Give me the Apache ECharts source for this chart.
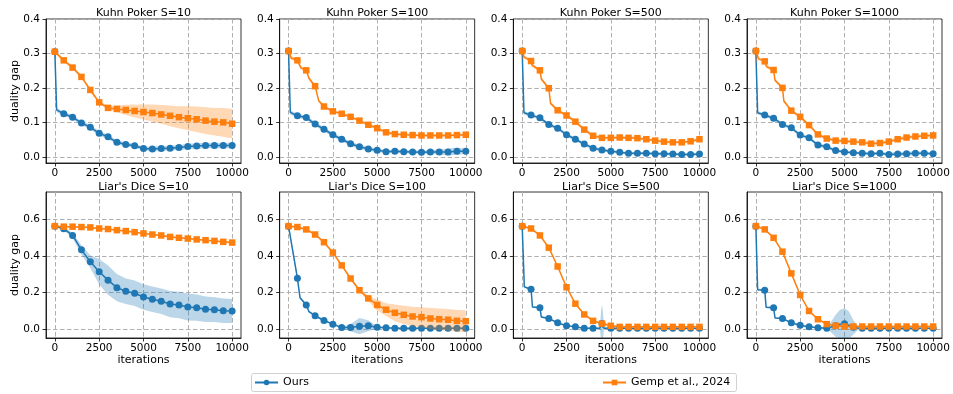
<!DOCTYPE html>
<html>
<head>
<meta charset="utf-8">
<script src="https://cdn.jsdelivr.net/npm/echarts@6/dist/echarts.min.js"></script>
<style>
  html, body { margin: 0; padding: 0; background: #fff; }
  #chart { width: 953px; height: 394px; }
</style>
</head>
<body>
<div id="chart"></div>
<script>
// Each point: [iteration, mean duality gap, standard deviation]
const kuhn10Ours = [[0,.305,.004],[100,.136,.006],[500,.125,.006],[1000,.115,.006],[1500,.098,.006],[2000,.086,.006],[2500,.068,.007],[3000,.058,.006],[3500,.042,.006],[4000,.036,.006],[4500,.032,.006],[5000,.024,.006],[5500,.023,.007],[6000,.024,.007],[6500,.025,.007],[7000,.027,.007],[7500,.030,.008],[8000,.031,.008],[8500,.033,.008],[9000,.033,.008],[9500,.033,.008],[10000,.033,.008]];
const kuhn10Gemp = [[0,.305,.005],[500,.280,.005],[1000,.259,.005],[1500,.232,.005],[2000,.194,.005],[2500,.158,.005],[3000,.142,.006],[3500,.139,.010],[4000,.136,.015],[4500,.133,.019],[5000,.130,.022],[5500,.127,.025],[6000,.123,.027],[6500,.119,.030],[7000,.115,.032],[7500,.112,.035],[8000,.109,.037],[8500,.105,.039],[9000,.102,.040],[9500,.100,.042],[10000,.096,.043]];

const kuhn100Ours = [[0,.307,.010],[100,.129,.006],[500,.119,.006],[1000,.114,.006],[1500,.095,.006],[2000,.080,.006],[2500,.064,.006],[3000,.051,.006],[3500,.038,.006],[4000,.029,.006],[4500,.023,.006],[5000,.019,.005],[5500,.015,.005],[6000,.016,.005],[6500,.015,.005],[7000,.014,.005],[7500,.013,.005],[8000,.014,.006],[8500,.014,.007],[9000,.014,.010],[9500,.016,.010],[10000,.016,.008]];
const kuhn100Gemp = [[0,.307,.020],[150,.287,.005],[500,.280,.005],[700,.258,.005],[1000,.251,.005],[1150,.228,.005],[1500,.205,.005],[1700,.163,.005],[2000,.146,.005],[2500,.132,.004],[3000,.125,.004],[3500,.116,.004],[4000,.105,.004],[4500,.093,.004],[5000,.083,.004],[5500,.071,.004],[6000,.066,.004],[6500,.064,.004],[7000,.063,.004],[7500,.062,.004],[8000,.062,.004],[8500,.062,.004],[9000,.062,.004],[9500,.063,.004],[10000,.064,.004]];

const kuhn500Ours = [[0,.307,.010],[100,.128,.005],[500,.121,.005],[1000,.113,.005],[1500,.094,.005],[2000,.083,.005],[2500,.064,.005],[3000,.051,.005],[3500,.037,.005],[4000,.025,.005],[4500,.020,.004],[5000,.016,.004],[5500,.013,.004],[6000,.010,.004],[6500,.010,.004],[7000,.010,.004],[7500,.009,.004],[8000,.009,.004],[8500,.008,.004],[9000,.007,.004],[9500,.007,.004],[10000,.008,.004]];
const kuhn500Gemp = [[0,.307,.025],[100,.290,.005],[500,.278,.005],[550,.266,.005],[1000,.251,.005],[1080,.226,.005],[1500,.199,.005],[1600,.155,.005],[2000,.135,.005],[2500,.120,.005],[3000,.102,.005],[3500,.079,.005],[4000,.061,.005],[4500,.055,.004],[5000,.055,.004],[5500,.056,.004],[6000,.055,.004],[6500,.054,.004],[7000,.051,.004],[7500,.047,.004],[8000,.044,.004],[8500,.042,.004],[9000,.042,.004],[9500,.045,.004],[10000,.051,.005]];

const kuhn1000Ours = [[0,.307,.010],[100,.128,.005],[500,.121,.005],[1000,.112,.005],[1500,.094,.005],[2000,.084,.005],[2500,.063,.005],[3000,.055,.005],[3500,.034,.005],[4000,.029,.005],[4500,.018,.005],[5000,.014,.004],[5500,.012,.004],[6000,.010,.004],[6500,.009,.004],[7000,.010,.004],[7500,.007,.005],[8000,.008,.006],[8500,.009,.006],[9000,.010,.006],[9500,.010,.005],[10000,.009,.004]];
const kuhn1000Gemp = [[0,.307,.035],[150,.285,.005],[500,.277,.005],[600,.262,.005],[1000,.252,.005],[1080,.222,.005],[1500,.200,.005],[1580,.162,.005],[2000,.134,.005],[2500,.116,.005],[3000,.092,.005],[3500,.065,.005],[4000,.053,.005],[4500,.047,.005],[5000,.046,.005],[5500,.044,.005],[6000,.042,.005],[6500,.038,.005],[7000,.040,.005],[7500,.044,.005],[8000,.051,.005],[8500,.056,.005],[9000,.059,.005],[9500,.061,.005],[10000,.062,.005]];

const dice10Ours = [[0,.563,.003],[500,.549,.008],[1000,.512,.015],[1500,.433,.025],[2000,.368,.035],[2500,.313,.070],[3000,.267,.080],[3500,.226,.075],[4000,.206,.070],[4500,.195,.070],[5000,.175,.070],[5500,.162,.070],[6000,.151,.070],[6500,.136,.072],[7000,.131,.073],[7500,.120,.074],[8000,.116,.072],[8500,.107,.070],[9000,.105,.068],[9500,.099,.067],[10000,.098,.066]];
const dice10Gemp = [[0,.563,.005],[500,.560,.005],[1000,.560,.005],[1500,.558,.005],[2000,.556,.005],[2500,.550,.005],[3000,.547,.005],[3500,.541,.005],[4000,.536,.005],[4500,.530,.005],[5000,.523,.005],[5500,.517,.005],[6000,.512,.005],[6500,.504,.005],[7000,.499,.005],[7500,.495,.005],[8000,.490,.005],[8500,.486,.005],[9000,.482,.005],[9500,.477,.005],[10000,.473,.005]];

const dice100Ours = [[0,.563,.005],[250,.420,.015],[500,.278,.010],[650,.170,.008],[1000,.131,.006],[1150,.095,.006],[1500,.072,.005],[2000,.046,.005],[2500,.026,.005],[3000,.007,.005],[3500,.007,.020],[4000,.015,.045],[4500,.017,.030],[5000,.009,.006],[5500,.006,.004],[6000,.004,.004],[6500,.004,.004],[7000,.004,.004],[7500,.004,.004],[8000,.004,.004],[8500,.004,.004],[9000,.004,.004],[9500,.004,.004],[10000,.004,.004]];
const dice100Gemp = [[0,.563,.006],[500,.558,.006],[1000,.545,.006],[1500,.517,.007],[2000,.475,.008],[2500,.418,.008],[3000,.348,.008],[3500,.276,.008],[4000,.212,.010],[4500,.167,.015],[5000,.131,.030],[5500,.105,.035],[6000,.088,.046],[6500,.077,.050],[7000,.068,.053],[7500,.064,.055],[8000,.057,.057],[8500,.053,.058],[9000,.050,.059],[9500,.044,.060],[10000,.042,.060]];

const dice500Ours = [[0,.563,.005],[120,.230,.006],[500,.217,.005],[580,.120,.005],[1000,.116,.005],[1080,.065,.005],[1500,.057,.004],[2000,.033,.004],[2500,.017,.004],[3000,.011,.004],[3500,.004,.004],[4000,.004,.004],[4380,.004,.004],[4450,.020,.080],[4500,.030,.105],[4550,.020,.080],[4620,.004,.004],[5000,.003,.004],[5500,.003,.003],[6000,.003,.003],[6500,.003,.003],[7000,.003,.003],[7500,.003,.003],[7700,.003,.003],[7750,.008,.025],[7800,.003,.003],[8000,.003,.003],[8500,.003,.003],[9000,.003,.003],[9500,.003,.003],[10000,.003,.003]];
const dice500Gemp = [[0,.563,.006],[500,.550,.006],[1000,.512,.006],[1500,.445,.006],[2000,.342,.006],[2500,.228,.006],[3000,.138,.006],[3500,.079,.006],[4000,.044,.006],[4500,.029,.006],[5000,.017,.005],[5500,.011,.004],[6000,.011,.004],[6500,.011,.004],[7000,.011,.004],[7500,.011,.004],[8000,.011,.004],[8500,.011,.004],[9000,.011,.004],[9500,.011,.004],[10000,.011,.004]];

const dice1000Ours = [[0,.563,.005],[100,.215,.006],[500,.212,.005],[580,.118,.005],[1000,.116,.005],[1080,.060,.005],[1500,.057,.004],[2000,.033,.004],[2500,.020,.004],[3000,.011,.004],[3500,.006,.004],[4000,.004,.005],[4250,.010,.030],[4500,.017,.060],[4750,.025,.080],[5000,.028,.085],[5250,.020,.075],[5500,.009,.040],[5750,.005,.012],[6000,.004,.004],[6500,.004,.004],[7000,.004,.004],[7500,.004,.004],[8000,.004,.004],[8500,.004,.004],[9000,.004,.004],[9500,.004,.004],[10000,.004,.004]];
const dice1000Gemp = [[0,.563,.006],[500,.545,.006],[1000,.499,.006],[1500,.423,.006],[2000,.304,.006],[2500,.186,.006],[3000,.098,.006],[3500,.053,.006],[4000,.026,.006],[4500,.017,.005],[5000,.013,.004],[5500,.013,.004],[6000,.013,.004],[6500,.013,.004],[7000,.013,.004],[7500,.013,.004],[8000,.013,.004],[8500,.013,.004],[9000,.013,.004],[9500,.013,.004],[10000,.013,.004]];

const panelTitles = ['Kuhn Poker S=10', 'Kuhn Poker S=100', 'Kuhn Poker S=500', 'Kuhn Poker S=1000',
                     "Liar's Dice S=10", "Liar's Dice S=100", "Liar's Dice S=500", "Liar's Dice S=1000"];
const oursRuns = [kuhn10Ours, kuhn100Ours, kuhn500Ours, kuhn1000Ours, dice10Ours, dice100Ours, dice500Ours, dice1000Ours];
const gempRuns = [kuhn10Gemp, kuhn100Gemp, kuhn500Gemp, kuhn1000Gemp, dice10Gemp, dice100Gemp, dice500Gemp, dice1000Gemp];
const seriesNames = ['Ours', 'Gemp et al., 2024'];
const xTicks = [0, 2500, 5000, 7500, 10000];
const kuhnTicks = [0, 0.1, 0.2, 0.3, 0.4];
const diceTicks = [0, 0.2, 0.4, 0.6];
const xLabel = 'iterations';
const yLabel = 'duality gap';

// ---- layout and style ----
const BLUE = '#1f77b4', ORANGE = '#ff7f0e';
const BLUE_FILL = 'rgba(31,119,180,0.3)', ORANGE_FILL = 'rgba(255,127,14,0.3)';
const FONT = 'DejaVu Sans';
const GRID_LEFTS = [46, 279.67, 513.33, 747];
const GRID_W = 195;
const ROWS = [
  { top: 19, height: 144, min: -0.018, max: 0.4, ticks: kuhnTicks, titleY: 13 },
  { top: 192, height: 146, min: -0.05, max: 0.75, ticks: diceTicks, titleY: 187 }
];
const MARK_EVERY = 500;
const GRID_LINE = { color: '#b0b0b0', width: 1, type: [4.5, 2.5] };
const SPINE = { color: '#000', width: 0.8 };

const grids = [], xAxes = [], yAxes = [], series = [], graphics = [];

function bandSeries(pts, gi, fill, z) {
  return {
    type: 'custom', xAxisIndex: gi, yAxisIndex: gi, z, silent: true, clip: true,
    data: pts.map(p => [p[0], p[1] - p[2], p[1] + p[2]]),
    encode: { x: 0, y: [1, 2] },
    renderItem: function (params, api) {
      if (params.dataIndex !== 0) return null;
      const upper = pts.map(p => api.coord([p[0], p[1] + p[2]]));
      const lower = pts.map(p => api.coord([p[0], p[1] - p[2]])).reverse();
      const cs = params.coordSys;
      return {
        type: 'polygon',
        shape: { points: upper.concat(lower) },
        style: { fill: fill, stroke: null },
        clipPath: { type: 'rect', shape: { x: cs.x, y: cs.y, width: cs.width, height: cs.height } }
      };
    }
  };
}

function lineSeries(name, pts, gi, color, symbol, size, z) {
  return {
    type: 'line', name, xAxisIndex: gi, yAxisIndex: gi, z,
    color,
    symbol, symbolSize: size, showAllSymbol: true,
    itemStyle: { color, borderWidth: 0 },
    lineStyle: { color, width: 1.5 },
    emphasis: { disabled: true },
    data: pts.map(p => ({ value: [p[0], p[1]], symbol: p[0] % MARK_EVERY === 0 ? symbol : 'none' }))
  };
}

panelTitles.forEach((title, gi) => {
  const row = ROWS[Math.floor(gi / 4)];
  const col = gi % 4;
  const left = GRID_LEFTS[col];
  grids.push({ left, top: row.top, width: GRID_W, height: row.height, show: true,
               borderColor: '#000', borderWidth: 0.8, backgroundColor: 'transparent' });
  xAxes.push({
    gridIndex: gi, type: 'value', min: -500, max: 10500,
    axisLine: { show: true, onZero: false, lineStyle: SPINE },
    axisTick: { show: true, customValues: xTicks, length: 3.5, lineStyle: SPINE },
    axisLabel: { customValues: xTicks, fontSize: 10.5, color: '#000', margin: 5, fontFamily: FONT,
                 formatter: v => String(v) },
    splitLine: { show: true, lineStyle: GRID_LINE }
  });
  yAxes.push({
    gridIndex: gi, type: 'value', min: row.min, max: row.max,
    axisLine: { show: true, onZero: false, lineStyle: SPINE },
    axisTick: { show: true, customValues: row.ticks, length: 3.5, lineStyle: SPINE },
    axisLabel: { customValues: row.ticks, fontSize: 10.5, color: '#000', margin: 6, fontFamily: FONT,
                 formatter: v => v.toFixed(1) },
    splitLine: { show: true, lineStyle: GRID_LINE }
  });

  series.push(bandSeries(oursRuns[gi], gi, BLUE_FILL, 1));
  series.push(lineSeries(seriesNames[0], oursRuns[gi], gi, BLUE, 'circle', 7, 2));
  series.push(bandSeries(gempRuns[gi], gi, ORANGE_FILL, 3));
  series.push(lineSeries(seriesNames[1], gempRuns[gi], gi, ORANGE, 'rect', 6.5, 4));

  graphics.push({
    type: 'text', x: left + GRID_W / 2, y: row.titleY,
    style: { text: title, font: '11px "DejaVu Sans"', fill: '#000', align: 'center', verticalAlign: 'middle' }
  });
  if (gi >= 4) {
    graphics.push({
      type: 'text', x: left + GRID_W / 2, y: 360,
      style: { text: xLabel, font: '11px "DejaVu Sans"', fill: '#000', align: 'center', verticalAlign: 'middle' }
    });
  }
  if (col === 0) {
    graphics.push({
      type: 'text', x: 15, y: row.top + row.height / 2, rotation: Math.PI / 2,
      style: { text: yLabel, font: '11px "DejaVu Sans"', fill: '#000', align: 'center', verticalAlign: 'middle' }
    });
  }
});

// legend frame
graphics.push({
  type: 'rect', z: -1,
  shape: { x: 251.5, y: 373.5, width: 485, height: 18, r: 2 },
  style: { fill: '#fff', stroke: '#d0d0d0', lineWidth: 1 }
});

const legendCommon = {
  top: 377, itemWidth: 23, itemHeight: 7, itemGap: 10, padding: 0, selectedMode: false,
  textStyle: { fontSize: 11, color: '#000', fontFamily: FONT }
};

const chart = echarts.init(document.getElementById('chart'), null, { renderer: 'canvas' });
chart.setOption({
  animation: false,
  backgroundColor: '#fff',
  grid: grids,
  xAxis: xAxes,
  yAxis: yAxes,
  series: series,
  legend: [
    Object.assign({ data: [seriesNames[0]], left: 254 }, legendCommon),
    Object.assign({ data: [seriesNames[1]], left: 602 }, legendCommon)
  ],
  graphic: graphics
});
</script>
</body>
</html>
